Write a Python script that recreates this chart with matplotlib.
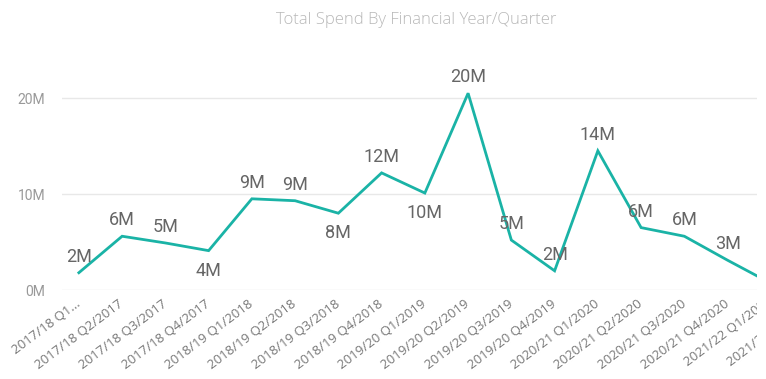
import matplotlib.pyplot as plt
from matplotlib.transforms import Bbox, TransformedBbox

quarters = [
    "2017/18 Q1...", "2017/18 Q2/2017", "2017/18 Q3/2017", "2017/18 Q4/2017",
    "2018/19 Q1/2018", "2018/19 Q2/2018", "2018/19 Q3/2018", "2018/19 Q4/2018",
    "2019/20 Q1/2019", "2019/20 Q2/2019", "2019/20 Q3/2019", "2019/20 Q4/2019",
    "2020/21 Q1/2020", "2020/21 Q2/2020", "2020/21 Q3/2020", "2020/21 Q4/2020",
    "2021/22 Q1/2021", "2021/22 Q2/2021",
]
spend = [1.8, 5.6, 4.9, 4.1, 9.5, 9.3, 8.0, 12.2, 10.1, 20.5, 5.2, 2.0,
         14.5, 6.5, 5.6, 3.1, 0.7]
value_labels = ["2M", "6M", "5M", "4M", "9M", "9M", "8M", "12M", "10M", "20M",
                "5M", "2M", "14M", "6M", "6M", "3M", "1M"]
label_below = [False, False, False, True, False, False, True, False, True,
               False, False, False, False, False, False, False, False]
y_ticks = [0, 10, 20]
y_tick_labels = ["0M", "10M", "20M"]


def main():
    fig = plt.figure(figsize=(7.66, 3.79), dpi=100)
    ax = fig.add_axes([62 / 766, 89 / 379, 695 / 766, 230 / 379])

    x = list(range(len(spend)))
    ax.plot(x, spend, color="#1AB3A6", linewidth=2.0, solid_joinstyle="miter")

    ax.set_xlim(-0.39, 15.68)
    ax.set_ylim(0, 23.96)

    ax.set_yticks(y_ticks)
    ax.set_yticklabels(y_tick_labels, fontsize=10, color="#999999", family="Roboto")
    ax.yaxis.grid(True, color="#e8e8e8", linewidth=1)
    ax.tick_params(axis="y", length=0, pad=12)

    shown = 16
    ax.set_xticks(range(shown))
    ax.set_xticklabels(quarters[:shown], rotation=37, ha="right", va="center",
                       rotation_mode="anchor", fontsize=9.5, color="#777777",
                       family="Open Sans")
    ax.tick_params(axis="x", length=0, pad=9)

    # ticks past the right edge: draw labels by hand, cut at the plot edge
    clip = TransformedBbox(Bbox([[0, 0], [757 / 766, 1]]), fig.transFigure)
    for i in range(shown, len(quarters)):
        t = ax.annotate(quarters[i], xy=(i, 0), xycoords=("data", "axes fraction"),
                        xytext=(0, -6.5), textcoords="offset points", rotation=37,
                        ha="right", va="center", rotation_mode="anchor",
                        fontsize=9.5, color="#777777", family="Open Sans",
                        annotation_clip=False)
        t.set_clip_box(clip)
        t.set_clip_on(True)

    for s in ax.spines.values():
        s.set_visible(False)
    ax.set_axisbelow(True)

    for i in range(shown):
        dy = -14.5 if label_below[i] else 11.5
        ax.annotate(value_labels[i], (i, spend[i]), xytext=(0, dy),
                    textcoords="offset points", ha="center", va="center",
                    fontsize=13, color="#666666", family="Roboto",
                    annotation_clip=False)

    fig.text(416 / 766, 1 - 20 / 379, "Total Spend By Financial Year/Quarter",
             ha="center", va="center", fontsize=12, color="#b8b8b8",
             family="Open Sans", fontweight="light")

    fig.savefig("out.png", dpi=100)


if __name__ == "__main__":
    main()
